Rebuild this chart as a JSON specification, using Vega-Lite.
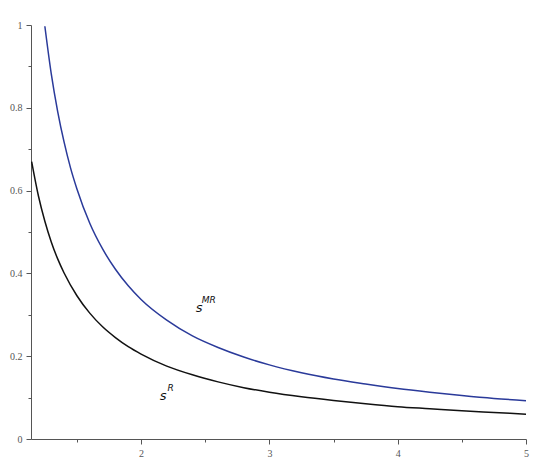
{
  "$schema": "https://vega.github.io/schema/vega-lite/v6.json",
  "width": 495,
  "height": 414,
  "autosize": "none",
  "padding": {"left": 31, "top": 25, "right": 24, "bottom": 28},
  "background": "white",
  "config": {"view": {"stroke": null}},
  "datasets": {
    "curves": [
      {"x": 1.25, "y": 0.997, "s": "MR"}, {"x": 1.3, "y": 0.882, "s": "MR"}, {"x": 1.35, "y": 0.791, "s": "MR"},
      {"x": 1.4, "y": 0.717, "s": "MR"}, {"x": 1.45, "y": 0.655, "s": "MR"}, {"x": 1.5, "y": 0.604, "s": "MR"},
      {"x": 1.6, "y": 0.521, "s": "MR"}, {"x": 1.7, "y": 0.459, "s": "MR"}, {"x": 1.8, "y": 0.41, "s": "MR"},
      {"x": 1.9, "y": 0.37, "s": "MR"}, {"x": 2.0, "y": 0.337, "s": "MR"}, {"x": 2.2, "y": 0.287, "s": "MR"},
      {"x": 2.4, "y": 0.249, "s": "MR"}, {"x": 2.6, "y": 0.221, "s": "MR"}, {"x": 2.8, "y": 0.198, "s": "MR"},
      {"x": 3.0, "y": 0.179, "s": "MR"}, {"x": 3.25, "y": 0.16, "s": "MR"}, {"x": 3.5, "y": 0.145, "s": "MR"},
      {"x": 3.75, "y": 0.133, "s": "MR"}, {"x": 4.0, "y": 0.122, "s": "MR"}, {"x": 4.25, "y": 0.113, "s": "MR"},
      {"x": 4.5, "y": 0.105, "s": "MR"}, {"x": 4.75, "y": 0.098, "s": "MR"}, {"x": 5.0, "y": 0.0925, "s": "MR"},
      {"x": 1.147, "y": 0.67, "s": "R"}, {"x": 1.2, "y": 0.587, "s": "R"}, {"x": 1.25, "y": 0.526, "s": "R"},
      {"x": 1.3, "y": 0.476, "s": "R"}, {"x": 1.35, "y": 0.435, "s": "R"}, {"x": 1.4, "y": 0.401, "s": "R"},
      {"x": 1.5, "y": 0.346, "s": "R"}, {"x": 1.6, "y": 0.304, "s": "R"}, {"x": 1.7, "y": 0.271, "s": "R"},
      {"x": 1.8, "y": 0.245, "s": "R"}, {"x": 1.9, "y": 0.223, "s": "R"}, {"x": 2.0, "y": 0.205, "s": "R"},
      {"x": 2.2, "y": 0.176, "s": "R"}, {"x": 2.4, "y": 0.155, "s": "R"}, {"x": 2.6, "y": 0.138, "s": "R"},
      {"x": 2.8, "y": 0.124, "s": "R"}, {"x": 3.0, "y": 0.113, "s": "R"}, {"x": 3.25, "y": 0.102, "s": "R"},
      {"x": 3.5, "y": 0.093, "s": "R"}, {"x": 3.75, "y": 0.085, "s": "R"}, {"x": 4.0, "y": 0.078, "s": "R"},
      {"x": 4.25, "y": 0.073, "s": "R"}, {"x": 4.5, "y": 0.068, "s": "R"}, {"x": 4.75, "y": 0.064, "s": "R"},
      {"x": 5.0, "y": 0.06, "s": "R"}
    ],
    "base": [
      {"x": 2.452, "y": 0.316, "t": "s"},
      {"x": 2.172, "y": 0.103, "t": "s"}
    ],
    "sup": [
      {"x": 2.472, "y": 0.336, "t": "MR"},
      {"x": 2.205, "y": 0.123, "t": "R"}
    ]
  },
  "layer": [
    {
      "data": {"name": "curves"},
      "mark": {"type": "line", "strokeWidth": 1.5, "interpolate": "monotone"},
      "encoding": {
        "x": {
          "field": "x", "type": "quantitative",
          "scale": {"domain": [1.142, 5], "nice": false, "zero": false},
          "axis": {
            "title": null, "grid": false,
            "values": [1.5, 2, 2.5, 3, 3.5, 4, 4.5, 5],
            "labelExpr": "datum.value % 1 === 0 ? format(datum.value, 'd') : ''",
            "tickSize": {"condition": {"test": "datum.value % 1 === 0", "value": 5}, "value": 3},
            "labelFont": "Liberation Serif", "labelFontSize": 10, "labelColor": "#555",
            "labelPadding": 4, "domainColor": "#555", "tickColor": "#555", "labelFlush": false
          }
        },
        "y": {
          "field": "y", "type": "quantitative",
          "scale": {"domain": [0, 1], "nice": false},
          "axis": {
            "title": null, "grid": false,
            "values": [0, 0.1, 0.2, 0.3, 0.4, 0.5, 0.6, 0.7, 0.8, 0.9, 1],
            "labelExpr": "indexof(['0','0.2','0.4','0.6','0.8','1'], format(datum.value, '~g')) >= 0 ? format(datum.value, '~g') : ''",
            "tickSize": {"condition": {"test": "indexof(['0','0.2','0.4','0.6','0.8','1'], format(datum.value, '~g')) >= 0", "value": 5}, "value": 3},
            "labelFont": "Liberation Serif", "labelFontSize": 10, "labelColor": "#555",
            "labelPadding": 4, "domainColor": "#555", "tickColor": "#555", "labelFlush": false
          }
        },
        "color": {
          "field": "s", "type": "nominal",
          "scale": {"domain": ["MR", "R"], "range": ["#2a3a9a", "#111111"]},
          "legend": null
        }
      }
    },
    {
      "data": {"name": "base"},
      "mark": {"type": "text", "font": "DejaVu Sans", "fontStyle": "italic", "fontSize": 13, "color": "#111", "align": "center", "baseline": "middle"},
      "encoding": {
        "x": {"field": "x", "type": "quantitative"},
        "y": {"field": "y", "type": "quantitative"},
        "text": {"field": "t"}
      }
    },
    {
      "data": {"name": "sup"},
      "mark": {"type": "text", "font": "DejaVu Sans", "fontStyle": "italic", "fontSize": 9, "color": "#111", "align": "left", "baseline": "middle"},
      "encoding": {
        "x": {"field": "x", "type": "quantitative"},
        "y": {"field": "y", "type": "quantitative"},
        "text": {"field": "t"}
      }
    }
  ]
}
